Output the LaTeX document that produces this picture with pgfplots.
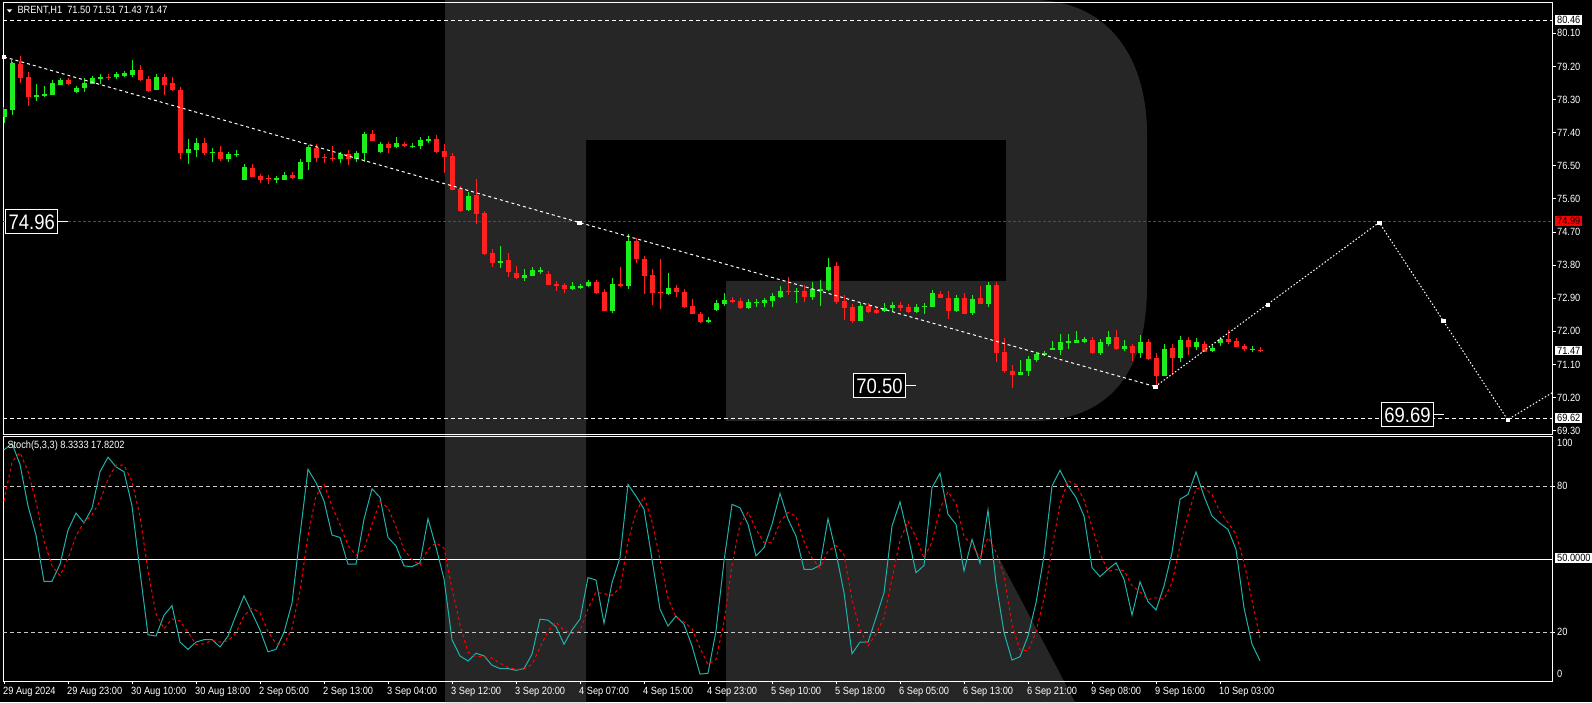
\documentclass[border=0pt]{standalone}
\usepackage{pgfplots}
\usepackage{pgfplotstable}
\pgfplotsset{compat=1.18}
\usepackage{fontspec}
\setmainfont{Liberation Sans}[FakeStretch=0.88]
\definecolor{candG}{HTML}{1EEE1E}
\definecolor{candR}{HTML}{FF2020}
\definecolor{stochM}{HTML}{20B2AA}
\definecolor{wm}{HTML}{262626}
\definecolor{lvl}{HTML}{C8C8C8}
\newcommand\sm{\fontsize{10.5}{12}\selectfont}
\newcommand\bg{\fontsize{21}{24}\selectfont}

\pgfplotstableread{
i lo hi L H
0 77.83 78.04 77.65 78.05
1 78.02 79.30 77.88 79.33
4 78.37 78.42 78.27 78.72
5 78.40 78.45 78.36 78.67
6 78.41 78.76 78.41 78.79
7 78.70 78.83 78.70 78.88
9 78.50 78.61 78.47 78.65
10 78.60 78.76 78.51 78.88
11 78.72 78.88 78.71 78.90
12 78.86 78.92 78.72 78.99
14 78.90 78.99 78.85 79.06
15 78.95 79.01 78.92 79.08
16 78.98 79.10 78.90 79.38
19 78.56 78.92 78.56 78.94
23 76.84 76.96 76.55 77.24
24 76.93 77.13 76.73 77.25
26 76.84 76.88 76.61 76.97
28 76.68 76.82 76.59 76.84
29 76.80 76.82 76.80 76.93
30 76.10 76.48 76.10 76.48
34 76.11 76.16 76.04 76.20
35 76.11 76.25 76.11 76.28
37 76.14 76.59 76.14 76.68
38 76.59 77.00 76.39 77.04
42 76.69 76.81 76.57 76.86
44 76.69 76.84 76.60 76.86
45 76.84 77.36 76.59 77.36
47 76.88 77.08 76.86 77.08
49 77.00 77.11 76.98 77.27
51 77.02 77.05 77.00 77.08
52 77.05 77.20 76.95 77.27
53 77.18 77.23 77.13 77.26
58 75.30 75.68 75.28 75.80
62 73.87 73.91 73.73 74.32
65 73.44 73.53 73.38 73.69
66 73.51 73.67 73.51 73.76
67 73.60 73.67 73.56 73.67
71 73.14 73.22 73.12 73.33
72 73.17 73.23 73.15 73.29
73 73.22 73.33 73.20 73.33
76 72.56 73.29 72.51 73.44
78 73.24 74.46 73.14 74.64
83 73.02 73.19 72.99 73.59
88 72.26 72.31 72.22 72.31
89 72.58 72.78 72.56 72.81
90 72.74 72.85 72.70 73.03
93 72.64 72.81 72.62 72.83
94 72.78 72.81 72.67 72.81
95 72.76 72.85 72.67 72.90
96 72.83 72.96 72.67 73.05
97 72.94 73.11 72.90 73.22
99 73.08 73.11 72.78 73.17
101 72.94 73.15 72.85 73.33
102 73.11 73.15 72.70 73.40
103 73.12 73.76 73.11 74.00
107 72.28 72.70 72.28 72.74
110 72.56 72.64 72.54 72.78
111 72.64 72.72 72.54 72.78
114 72.54 72.67 72.49 72.69
115 72.66 72.69 72.47 72.69
116 72.67 73.05 72.67 73.05
119 72.56 72.92 72.54 72.94
121 72.51 72.87 72.45 72.99
123 72.74 73.26 72.65 73.35
127 70.81 70.89 70.81 71.22
128 70.91 71.25 70.79 71.25
129 71.22 71.38 71.18 71.40
130 71.36 71.40 71.36 71.43
131 71.49 71.56 71.49 71.74
132 71.49 71.70 71.36 71.92
133 71.69 71.75 71.51 71.92
134 71.69 71.77 71.69 72.01
135 71.72 71.79 71.69 71.83
137 71.40 71.72 71.36 71.75
138 71.66 71.84 71.59 72.01
140 71.51 71.61 71.47 71.77
142 71.40 71.72 71.29 71.90
145 70.79 71.52 70.79 71.66
147 71.29 71.77 71.18 71.87
149 71.57 71.70 71.49 71.81
151 71.48 71.56 71.45 71.60
152 71.69 71.79 71.59 71.81
156 71.49 71.52 71.49 71.60
}\bull

\pgfplotstableread{
i lo hi L H
2 78.89 79.27 78.74 79.47
3 78.38 78.92 78.13 79.06
8 78.71 78.83 78.70 78.84
13 78.90 78.92 78.83 78.97
17 78.83 79.10 78.80 79.24
18 78.53 78.86 78.51 78.88
20 78.70 78.92 78.41 78.95
21 78.56 78.74 78.53 78.90
22 76.84 78.56 76.68 78.58
25 76.84 77.11 76.79 77.26
27 76.68 76.87 76.64 77.04
31 76.20 76.45 76.19 76.55
32 76.11 76.22 76.04 76.24
33 76.13 76.18 76.00 76.18
36 76.18 76.25 76.13 76.31
39 76.70 76.97 76.59 77.09
40 76.71 76.75 76.57 76.79
41 76.69 76.70 76.68 77.04
43 76.68 76.82 76.52 76.93
46 77.16 77.36 77.16 77.47
48 76.99 77.09 76.86 77.11
50 77.04 77.09 77.00 77.15
54 76.88 77.23 76.84 77.34
55 76.75 76.90 76.31 77.09
56 75.84 76.77 75.84 76.84
57 75.28 75.87 75.25 75.93
59 75.19 75.71 74.92 76.13
60 74.10 75.21 74.07 75.23
61 73.87 74.12 73.76 74.23
63 73.61 73.94 73.49 74.12
64 73.44 73.58 73.41 73.78
68 73.27 73.56 73.26 73.62
69 73.24 73.30 73.11 73.37
70 73.15 73.25 73.03 73.25
74 73.05 73.33 73.01 73.40
75 72.56 73.08 72.56 73.09
77 73.24 73.29 73.20 73.76
79 73.97 74.46 73.87 74.48
80 73.51 73.97 73.02 74.06
81 73.05 73.53 72.72 73.69
82 73.03 73.08 72.61 73.97
84 73.08 73.19 72.94 73.23
85 72.67 73.08 72.63 73.09
86 72.46 72.70 72.46 72.88
87 72.26 72.47 72.22 72.47
91 72.79 72.85 72.76 72.94
92 72.64 72.83 72.61 72.85
98 73.08 73.11 72.99 73.49
100 72.94 73.09 72.81 73.26
104 72.79 73.78 72.74 73.88
105 72.64 72.82 72.31 72.99
106 72.28 72.67 72.24 72.67
108 72.54 72.70 72.49 72.70
109 72.51 72.58 72.47 72.60
112 72.64 72.72 72.55 72.78
113 72.54 72.67 72.49 72.67
117 72.92 73.02 72.92 73.02
118 72.56 72.92 72.34 73.11
120 72.47 72.92 72.47 73.05
122 72.74 72.90 72.74 73.22
124 71.42 73.26 71.18 73.35
125 70.91 71.43 70.88 71.81
126 70.81 70.92 70.47 71.09
136 71.40 71.77 71.38 71.81
139 71.52 71.84 71.49 72.04
141 71.40 71.60 71.20 71.66
143 71.25 71.72 71.22 71.72
144 70.79 71.29 70.50 71.40
146 71.29 71.56 70.81 71.65
148 71.58 71.77 71.36 71.78
150 71.45 71.67 71.43 71.70
153 71.72 71.79 71.66 72.04
154 71.58 71.74 71.57 71.74
155 71.51 71.60 71.48 71.67
157 71.47 71.50 71.43 71.51
}\bear

\pgfplotstableread{
i M S
0 95 74
1 97.7 90
2 89 93.9
3 72 86.2
4 60 73.7
5 41 57.7
6 41 47.3
7 48 43.3
8 62 50.3
9 69 59.7
10 65 65.3
11 71 68.3
12 86 74
13 92 83
14 88 88.7
15 86 88.7
16 72 82
17 45 67.7
18 19 45.3
19 18.5 27.5
20 27 21.5
21 31 25.5
22 16 24.7
23 13 20
24 16 15
25 17 15.3
26 17 16.7
27 14 16
28 18.5 16.5
29 27 19.8
30 35 26.8
31 28 30
32 21 28
33 12 20.3
34 13 15.3
35 20 15
36 32 21.7
37 60 37.3
38 87 59.7
39 81.5 76.2
40 74 80.8
41 60 71.8
42 59 64.3
43 48 55.7
44 48 51.7
45 66.5 54.2
46 79 64.5
47 75.5 73.7
48 59 71.2
49 55.5 63.3
50 47.3 53.9
51 47 49.9
52 48.6 47.6
53 66.7 54.1
54 55 56.8
55 42 54.6
56 17 38
57 10.3 23.1
58 8.2 11.8
59 11.4 10
60 10.3 10
61 6.5 9.4
62 5.1 7.3
63 5.1 5.6
64 4.4 4.9
65 5.1 4.9
66 11 6.8
67 25.4 13.8
68 25 20.5
69 22.3 24.2
70 15.1 20.8
71 21 19.5
72 25.4 20.5
73 42.5 29.6
74 41.5 36.5
75 23.7 35.9
76 40.4 35.2
77 50.7 38.3
78 80.8 57.3
79 76 69.2
80 70.6 75.8
81 50 65.5
82 29.5 50
83 22.6 34
84 26.7 26.3
85 23.3 24.2
86 14.4 21.5
87 2.8 13.5
88 3.2 6.8
89 20.6 8.9
90 49.3 24.4
91 72.6 47.5
92 71.2 64.4
93 64.4 69.4
94 51.4 62.3
95 54.8 56.9
96 64.4 56.9
97 77.1 65.4
98 66.5 69.3
99 59.6 67.7
100 45.9 57.3
101 45.9 50.5
102 47.5 46.4
103 66.7 53.4
104 52.8 55.7
105 36.3 51.9
106 11.2 33.4
107 16 21.2
108 16 14.4
109 26 19.3
110 36.3 26.1
111 63.7 42
112 73.6 57.9
113 59.6 65.6
114 44.5 59.2
115 47.5 50.5
116 79.5 57.2
117 85.4 70.8
118 68.5 77.8
119 64.4 72.8
120 45.2 59.4
121 58.2 55.9
122 48.4 50.6
123 70.3 59
124 40.4 53
125 19.9 43.5
126 8.6 23
127 10 12.8
128 18.5 12.4
129 32.2 20.2
130 51.4 34
131 80.2 54.6
132 86.6 72.7
133 80.2 82.3
134 75.4 80.7
135 67.8 74.5
136 46.6 63.3
137 42.9 52.4
138 45.9 45.1
139 48.6 45.8
140 41.8 45.4
141 27.1 39.2
142 40.8 36.6
143 32.6 33.5
144 29.2 34.2
145 39.1 33.6
146 52.8 40.4
147 74.7 55.5
148 76.7 68.1
149 85.9 79.1
150 76 79.5
151 67.8 76.6
152 64.8 69.5
153 62.3 65
154 54.1 60.4
155 30 48.8
156 15.1 33.1
157 8.33 17.82
}\stoch

\pgfplotsset{
  mtaxis/.style={
    scale only axis, width=1549pt,
    xmin=-0.125, xmax=193.5,
    axis line style={white, line width=1pt},
    tick style={white, line width=1pt},
    major tick length=4pt, tick align=outside,
    xticklabels={}, yticklabels={},
  },
  wick/.style={draw=none, mark=none, forget plot,
    error bars/.cd, y dir=plus, y explicit, error mark=none,
    error bar style={draw=#1, line width=1pt}},
  body/.style={draw=none, mark=none, forget plot,
    error bars/.cd, y dir=plus, y explicit, error mark=-,
    error mark options={draw=#1, line width=1pt, mark size=2.5pt},
    error bar style={draw=#1, line width=5pt}},
}

\begin{document}
\begin{tikzpicture}
\useasboundingbox (0pt,0pt) rectangle (1592pt,702pt);
\begin{scope}[x=1pt,y=1pt]
\fill[black] (0,0) rectangle (1592,702);
% watermark
\fill[wm] (445,702) -- (1032,702) .. controls (1112,702) and (1147,640) .. (1147,568)
  -- (1147,416) .. controls (1147,330) and (1110,281) .. (1032,281)
  -- (726,281) -- (726,421) -- (1006,421) -- (1006,562) -- (586,562)
  -- (586,0) -- (445,0) -- cycle;
\fill[wm] (726,142) -- (1000,142) -- (1075,0) -- (726,0) -- cycle;
\end{scope}

% ---------------- price panel
\begin{axis}[mtaxis, at={(3pt,268pt)}, anchor=south west, height=431pt,
  ymin=69.2114, ymax=80.9234,
  xtick=\empty,
  ytick={69.3,70.2,71.1,72.0,72.9,73.8,74.7,75.6,76.5,77.4,78.3,79.2,80.1},
  ytick pos=right]
\addplot[white, line width=1pt, dash pattern=on 4pt off 3pt] coordinates {(-0.125,80.46) (193.5,80.46)};
\addplot[red, line width=1pt, dash pattern=on 3pt off 2pt] coordinates {(-0.125,74.99) (193.5,74.99)};
\addplot[white, line width=1pt, dash pattern=on 4pt off 3pt] coordinates {(-0.125,69.62) (193.5,69.62)};
\addplot[wick=candG] table[x=i, y=L, y error plus expr=\thisrow{H}-\thisrow{L}] {\bull};
\addplot[body=candG] table[x=i, y=lo, y error plus expr=\thisrow{hi}-\thisrow{lo}] {\bull};
\addplot[wick=candR] table[x=i, y=L, y error plus expr=\thisrow{H}-\thisrow{L}] {\bear};
\addplot[body=candR] table[x=i, y=lo, y error plus expr=\thisrow{hi}-\thisrow{lo}] {\bear};
\addplot[white, line width=1pt, dash pattern=on 3pt off 3pt] coordinates {(0,79.46) (71.9,74.96) (143.9,70.50)};
\addplot[white, line width=1pt, dash pattern=on 1.5pt off 2pt] coordinates {(143.9,70.50) (171.9,74.96) (187.95,69.60) (193.5,70.33)};
\addplot[white, only marks, mark=square*, mark size=1.6pt] coordinates {(0,79.46) (71.9,74.96) (143.9,70.50) (157.95,72.73) (171.9,74.96) (179.9,72.29) (187.95,69.60)};
\end{axis}

% ---------------- stochastic panel
\begin{axis}[mtaxis, at={(3pt,21pt)}, anchor=south west, height=245pt,
  ymin=0, ymax=100.7,
  xtick={0,8,...,152}, xtick pos=bottom, major tick length=3pt,
  ytick={20,80}, ytick pos=right]
\addplot[lvl, line width=1pt, dash pattern=on 4pt off 3pt] coordinates {(-0.125,80) (193.5,80)};
\addplot[lvl, line width=1pt, dash pattern=on 4pt off 3pt] coordinates {(-0.125,20) (193.5,20)};
\addplot[white, line width=1pt] coordinates {(-0.125,50) (193.5,50)};
\addplot[stochM, line width=1pt] table[x=i, y=M] {\stoch};
\addplot[red, line width=1pt, dash pattern=on 3pt off 3pt] table[x=i, y=S] {\stoch};
\end{axis}

% ---------------- texts
\begin{scope}[x=1pt,y=1pt]
\fill[white] (6.7,692.7) -- (12.3,692.7) -- (9.5,689.5) -- cycle;
\node[anchor=base west, inner sep=0pt, text=white, font=\sm] at (17.3,688) {BRENT,H1\ \ 71.50 71.51 71.43 71.47};
\node[anchor=base west, inner sep=0pt, text=white, font=\sm] at (7.3,254) {Stoch(5,3,3) 8.3333 17.8202};

\foreach \p in {80.10,79.20,78.30,77.40,76.50,75.60,74.70,73.80,72.90,72.00,71.10,70.20,69.30}
  \node[anchor=west, inner sep=0pt, text=white, font=\sm] at (1557,{702-33.3-(80.1-\p)*36.8}) {\p};
\node[anchor=west, inner sep=0pt, text=white, font=\sm] at (1557,702-486.3) {80};
\node[anchor=west, inner sep=0pt, text=white, font=\sm] at (1557,702-632.3) {20};
\node[anchor=west, inner sep=0pt, text=white, font=\sm] at (1557,702-443) {100};
\node[anchor=west, inner sep=0pt, text=white, font=\sm] at (1557,702-674) {0};

\tikzset{pbox/.style={anchor=west, font=\sm, inner xsep=2pt, inner ysep=1pt, minimum height=9.5pt}}
\node[pbox, fill=white, text=black] at (1555,702-20) {80.46};
\node[pbox, fill=red, text=black] at (1555,702-221) {74.99};
\node[pbox, fill=white, text=black] at (1555,702-350.7) {71.47};
\node[pbox, fill=white, text=black] at (1555,702-418) {69.62};
\node[pbox, fill=white, text=black] at (1555,702-558) {50.0000};

\foreach \k/\lab in {0/29 Aug 2024,1/29 Aug 23:00,2/30 Aug 10:00,3/30 Aug 18:00,4/2 Sep 05:00,5/2 Sep 13:00,6/3 Sep 04:00,7/3 Sep 12:00,8/3 Sep 20:00,9/4 Sep 07:00,10/4 Sep 15:00,11/4 Sep 23:00,12/5 Sep 10:00,13/5 Sep 18:00,14/6 Sep 05:00,15/6 Sep 13:00,16/6 Sep 21:00,17/9 Sep 08:00,18/9 Sep 16:00,19/10 Sep 03:00}
  \node[anchor=north west, inner sep=0pt, text=white, font=\sm] at ({3+64*\k}, 702-687) {\lab};

\tikzset{bigbox/.style={draw=white, line width=1pt, fill=black, text=white, font=\bg, inner xsep=2pt, inner ysep=0pt, minimum height=24pt, minimum width=52pt}}
\node[bigbox] at (31.7,480) {74.96};
\draw[white, line width=1pt] (57.7,480) -- (68,480);
\node[bigbox] at (879.5,316) {70.50};
\draw[white, line width=1pt] (906,316.3) -- (916,316.3);
\node[bigbox] at (1407.5,287) {69.69};
\draw[white, line width=1pt] (1434,287) -- (1444,287);
\end{scope}
\end{tikzpicture}
\end{document}
